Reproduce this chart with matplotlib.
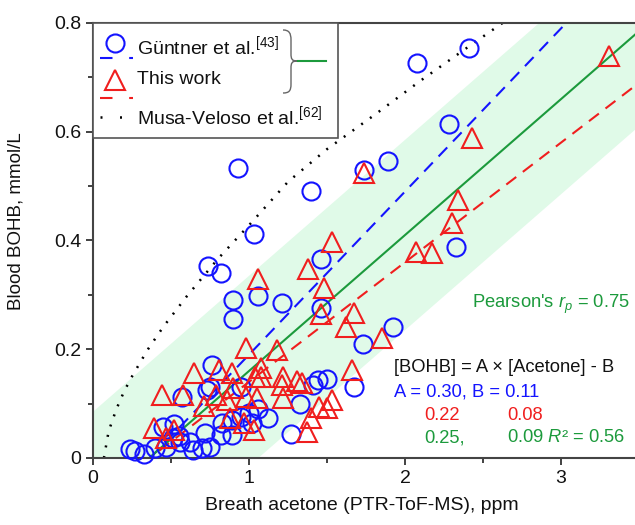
import numpy as np
import matplotlib
matplotlib.use("Agg")
import matplotlib.pyplot as plt
from matplotlib.path import Path
from matplotlib.patches import PathPatch, Rectangle

plt.rcParams['font.family'] = ['Liberation Sans', 'DejaVu Sans']
plt.rcParams['mathtext.fontset'] = 'custom'
plt.rcParams['mathtext.rm'] = 'Liberation Sans'
plt.rcParams['mathtext.it'] = 'Liberation Sans:italic'
plt.rcParams['mathtext.default'] = 'regular'

# Güntner et al. (blue circles)
gunt_x = [2.41, 2.08, 2.28, 0.93, 1.74, 1.89, 1.40, 2.33, 1.03, 0.74, 0.82, 1.46,
          0.90, 1.06, 1.21, 0.90, 1.46, 1.92, 1.73, 1.67, 1.50, 1.44, 1.41, 1.33,
          1.27, 0.76, 0.57, 0.73, 0.45, 0.52, 0.27, 0.24, 0.33, 0.40, 0.47, 0.51,
          0.56, 0.62, 0.64, 0.70, 0.75, 0.72, 0.82, 0.89, 0.83, 0.89, 0.95, 1.00,
          1.06, 1.12, 0.75, 0.95, 1.02, 0.55]
gunt_y = [0.754, 0.726, 0.614, 0.533, 0.530, 0.546, 0.491, 0.388, 0.412, 0.353, 0.340, 0.366,
          0.290, 0.298, 0.285, 0.256, 0.276, 0.241, 0.210, 0.130, 0.145, 0.143, 0.134, 0.099,
          0.044, 0.171, 0.112, 0.125, 0.057, 0.062, 0.012, 0.016, 0.008, 0.018, 0.020, 0.036,
          0.030, 0.030, 0.015, 0.018, 0.020, 0.046, 0.042, 0.042, 0.065, 0.070, 0.075, 0.083,
          0.090, 0.074, 0.130, 0.130, 0.064, 0.040]

# This work (red triangles)
this_x = [3.31, 2.43, 1.74, 2.34, 2.30, 2.07, 2.17, 1.53, 1.06, 1.38, 1.48, 1.46,
          1.62, 1.67, 1.85, 1.66, 1.34, 1.53, 1.50, 1.40, 1.37, 0.98, 1.18, 1.08,
          0.65, 0.81, 0.89, 1.22, 1.31, 1.04, 1.08, 0.44, 0.58, 0.71, 0.79, 0.90,
          0.86, 0.98, 1.05, 1.21, 1.22, 0.88, 0.97, 1.03, 0.39, 0.52, 0.47, 1.45]
this_y = [0.739, 0.588, 0.524, 0.474, 0.432, 0.379, 0.377, 0.397, 0.329, 0.348, 0.313, 0.265,
          0.241, 0.266, 0.220, 0.162, 0.138, 0.107, 0.092, 0.074, 0.048, 0.202, 0.199, 0.165,
          0.156, 0.162, 0.156, 0.149, 0.142, 0.149, 0.149, 0.116, 0.116, 0.096, 0.116, 0.129,
          0.107, 0.112, 0.110, 0.134, 0.110, 0.074, 0.064, 0.051, 0.055, 0.051, 0.037, 0.094]

# Musa-Veloso et al. relation
musa_x = [0.07, 0.10, 0.15, 0.20, 0.25, 0.35, 0.45, 0.60, 0.80, 1.00, 1.25, 1.50, 1.80, 2.10, 2.40, 2.65]
musa_y = [0.0, 0.049, 0.090, 0.123, 0.150, 0.199, 0.241, 0.297, 0.366, 0.428, 0.508, 0.568, 0.630, 0.694, 0.755, 0.805]

# [BOHB] = A x [Acetone] - B
fit_names = ['Güntner', 'This work', 'combined']
fit_A = [0.30, 0.22, 0.25]
fit_B = [0.11, 0.08, 0.09]
band_half = 0.175

blue = '#1414ff'
red = '#f01e1e'
green = '#1c9a3c'

fig = plt.figure(figsize=(6.35, 5.25), dpi=100)
ax = fig.add_axes([93 / 635, 67 / 525, 546 / 635, 435 / 525])

xx = np.linspace(0, 3.5, 50)
comb = fit_A[2] * xx - fit_B[2]
ax.fill_between(xx, comb - band_half, comb + band_half, color='#e0fae8', lw=0, zorder=0)

ax.plot(xx, fit_A[0] * xx - fit_B[0], color=blue, lw=1.5, dashes=(6, 4), zorder=2)
ax.plot(xx, fit_A[1] * xx - fit_B[1], color=red, lw=1.5, dashes=(6, 4), zorder=2)
ax.plot(xx, comb, color=green, lw=1.5, zorder=2)
ax.plot(musa_x, musa_y, color='black', lw=1.8, linestyle=(0, (0.8, 3.5)), zorder=2)

ax.plot(gunt_x, gunt_y, 'o', ms=13, mfc='none', mec=blue, mew=1.5, clip_on=False, zorder=3)
ax.plot(this_x, this_y, '^', ms=15, mfc='none', mec=red, mew=1.5, clip_on=False, zorder=4)

ax.set_xlim(0, 3.5)
ax.set_ylim(0, 0.8)
ax.set_xticks([0, 1, 2, 3])
ax.set_xticks([0.5, 1.5, 2.5], minor=True)
ax.set_yticks([0, 0.2, 0.4, 0.6, 0.8])
ax.set_yticklabels(['0', '0.2', '0.4', '0.6', '0.8'])
ax.set_yticks([0.1, 0.3, 0.5, 0.7], minor=True)
ax.tick_params(which='both', direction='out', labelsize=14, colors='#333333', labelcolor='#111111')
ax.tick_params(which='major', length=5, width=1.3)
ax.tick_params(which='minor', length=3.5, width=1.3)
for s in ax.spines.values():
    s.set_color('#444444')
    s.set_linewidth(1.5)

ax.set_xlabel('Breath acetone (PTR-ToF-MS), ppm', fontsize=14, color='#111111')
ax.set_ylabel('Blood BOHB, mmol/L', fontsize=13.5, color='#111111')
ax.xaxis.set_label_coords(0.493, -0.09)
ax.yaxis.set_label_coords(-0.125, 0.545)


def af(px, py):
    # pixel position in the picture -> axes fraction
    return ((px - 93) / 546, (458 - py) / 435)


# legend box drawn by hand
x0, y0 = af(93, 138)
x1, y1 = af(338, 23)
ax.add_patch(Rectangle((x0, y0), x1 - x0, y1 - y0, transform=ax.transAxes,
                       fc='white', ec='#555555', lw=1.2, zorder=5, clip_on=False))

def leg_line(px0, px1, py, **kw):
    a = af(px0, py)
    b = af(px1, py)
    ax.plot([a[0], b[0]], [a[1], b[1]], transform=ax.transAxes, zorder=6, clip_on=False, **kw)

def leg_text(px, py, s, color='#111111', size=14):
    p = af(px, py)
    ax.text(p[0], p[1], s, transform=ax.transAxes, fontsize=size, color=color,
            va='center', ha='left', zorder=6)

p = af(115, 43)
ax.plot([p[0]], [p[1]], 'o', ms=13, mfc='none', mec=blue, mew=1.5, transform=ax.transAxes, zorder=6, clip_on=False)
leg_line(100, 133, 58, color=blue, lw=1.5, dashes=(6, 8))
leg_text(137, 46, 'Güntner et al.$^{[43]}$')

p = af(115, 80)
ax.plot([p[0]], [p[1]], '^', ms=15, mfc='none', mec=red, mew=1.5, transform=ax.transAxes, zorder=6, clip_on=False)
leg_line(100, 133, 98, color=red, lw=1.5, dashes=(6, 8))
leg_text(137, 80, 'This work')

leg_line(100, 131, 117, color='black', lw=1.8, linestyle=(0, (0.8, 7)))
leg_text(137, 116, 'Musa-Veloso et al.$^{[62]}$')

# brace grouping the two data sets
brace_px = [(283, 30), (289, 30), (291, 33), (291, 40), (291, 54),
            (291, 59), (292, 61), (297, 61),
            (292, 61), (291, 63), (291, 68), (291, 84),
            (291, 91), (289, 93), (283, 93)]
codes = [Path.MOVETO, Path.CURVE4, Path.CURVE4, Path.CURVE4, Path.LINETO,
         Path.CURVE4, Path.CURVE4, Path.CURVE4,
         Path.CURVE4, Path.CURVE4, Path.CURVE4, Path.LINETO,
         Path.CURVE4, Path.CURVE4, Path.CURVE4]
brace = Path([af(*q) for q in brace_px], codes)
ax.add_patch(PathPatch(brace, transform=ax.transAxes, fc='none', ec='#666666', lw=1.0, zorder=6, clip_on=False))
leg_line(298, 326, 61, color=green, lw=1.5)

# fit annotations
fs = 13.2
leg_text(472, 304, "Pearson's $\\mathit{r_p}$ = 0.75", color=green, size=fs)
leg_text(394, 368, '[BOHB] = A × [Acetone] - B', size=fs)
leg_text(394, 392, 'A = %.2f, B = %.2f' % (fit_A[0], fit_B[0]), color=blue, size=fs)
leg_text(424, 415, '%.2f' % fit_A[1], color=red, size=fs)
leg_text(507, 415, '%.2f' % fit_B[1], color=red, size=fs)
leg_text(424, 438, '%.2f,' % fit_A[2], color=green, size=fs)
leg_text(507, 438, '%.2f $\\mathit{R}$² = 0.56' % fit_B[2], color=green, size=fs)

fig.savefig('out.png', dpi=100)
